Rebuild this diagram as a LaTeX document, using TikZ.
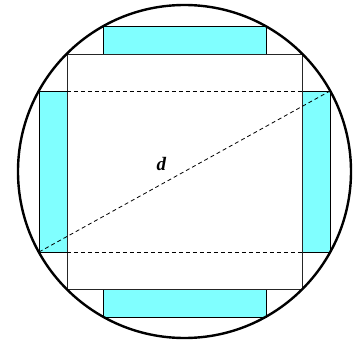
\documentclass[tikz,border=0pt]{standalone}
\usepackage{fontspec}
\setmainfont{Liberation Serif}
\definecolor{cyanfill}{RGB}{128,255,255}
\begin{document}
\begin{tikzpicture}[x=1pt,y=-1pt,
  bar/.style={fill=cyanfill,draw=black,line width=0.9pt},
  sq/.style={draw=black!85,line width=0.9pt},
  dash line/.style={draw=black,line width=0.8pt,dash pattern=on 4pt off 3pt},
  rim/.style={draw=black,line width=2.4pt}]
\useasboundingbox (0,0) rectangle (360,343);
% cyan bars
\draw[bar] (103,26) rectangle (266,54);
\draw[bar] (103,289) rectangle (266,317);
\draw[bar] (39,91) rectangle (67,252);
\draw[bar] (302,91) rectangle (330,252);
% inner square
\draw[sq] (67,54) rectangle (302,289);
% dashed lines
\coordinate (tl) at (67,91);
\coordinate (tr) at (302,91);
\coordinate (bl) at (67,252);
\coordinate (br) at (302,252);
\coordinate (dA) at (39,252);
\coordinate (dB) at (330,91);
\draw[dash line] (tl) -- (tr);
\draw[dash line] (bl) -- (br);
\draw[dash line] (dA) -- (dB);
% circle
\draw[rim] (184.5,171.5) circle[radius=166.5];
% label
\node[font=\fontsize{19}{19}\selectfont\bfseries\itshape, inner sep=0pt, anchor=base] (d) at (161.5,170) {d};
\end{tikzpicture}
\end{document}
